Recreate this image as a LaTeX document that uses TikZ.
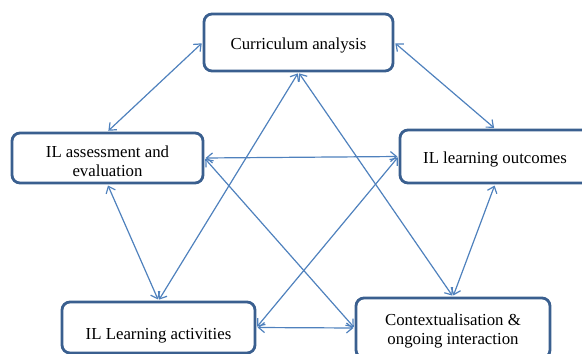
\documentclass[tikz,border=0pt]{standalone}
\usepackage{fontspec}
\setmainfont{Liberation Serif}
\usetikzlibrary{arrows.meta}
\definecolor{boxline}{HTML}{3A5F8F}
\definecolor{arrowblue}{HTML}{4F81BD}
\newcommand{\dropstrut}[1]{\rule{0pt}{#1}}
\begin{document}
\begin{tikzpicture}[x=1pt,y=-1pt,
  box/.style={draw=boxline, line width=2.8pt, rounded corners=8pt, fill=white,
    inner sep=0pt, align=center, font=\fontsize{16.8}{18.5}\selectfont},
  link/.style={draw=arrowblue, line width=1.2pt,
    {Straight Barb[length=6pt,width=10pt]}-{Straight Barb[length=6pt,width=10pt]},
    shorten <=1.2pt, shorten >=1.2pt}]
\useasboundingbox (0,0) rectangle (582,354);
\clip (0,0) rectangle (582,354);
\node[box, minimum width=189pt, minimum height=57pt] (cur) at (298.5,42.5) {\dropstrut{18.5pt}Curriculum analysis};
\node[box, minimum width=191pt, minimum height=50pt] (ass) at (107.5,158) {\dropstrut{18pt}IL assessment and\\evaluation};
\node[box, minimum width=190pt, minimum height=53pt] (out) at (495,156.5) {\dropstrut{18.5pt}IL learning outcomes};
\node[box, minimum width=193pt, minimum height=51pt] (act) at (158.5,327.5) {\dropstrut{28pt}IL Learning activities};
\node[box, minimum width=194pt, minimum height=60pt] (ctx) at (453,328) {\dropstrut{18pt}Contextualisation \&\\ongoing interaction};
\draw[link] (cur.west) -- (ass.north);
\draw[link] (cur.east) -- (out.north);
\draw[link] (cur.south) -- (act.north);
\draw[link] (cur.south) -- (ctx.north);
\draw[link] (ass.east) -- (out.west);
\draw[link] (ass.south) -- (act.north);
\draw[link] (ass.east) -- (ctx.west);
\draw[link] (out.west) -- (act.east);
\draw[link] (out.south) -- (ctx.north);
\draw[link] (act.east) -- (ctx.west);
\end{tikzpicture}
\end{document}
